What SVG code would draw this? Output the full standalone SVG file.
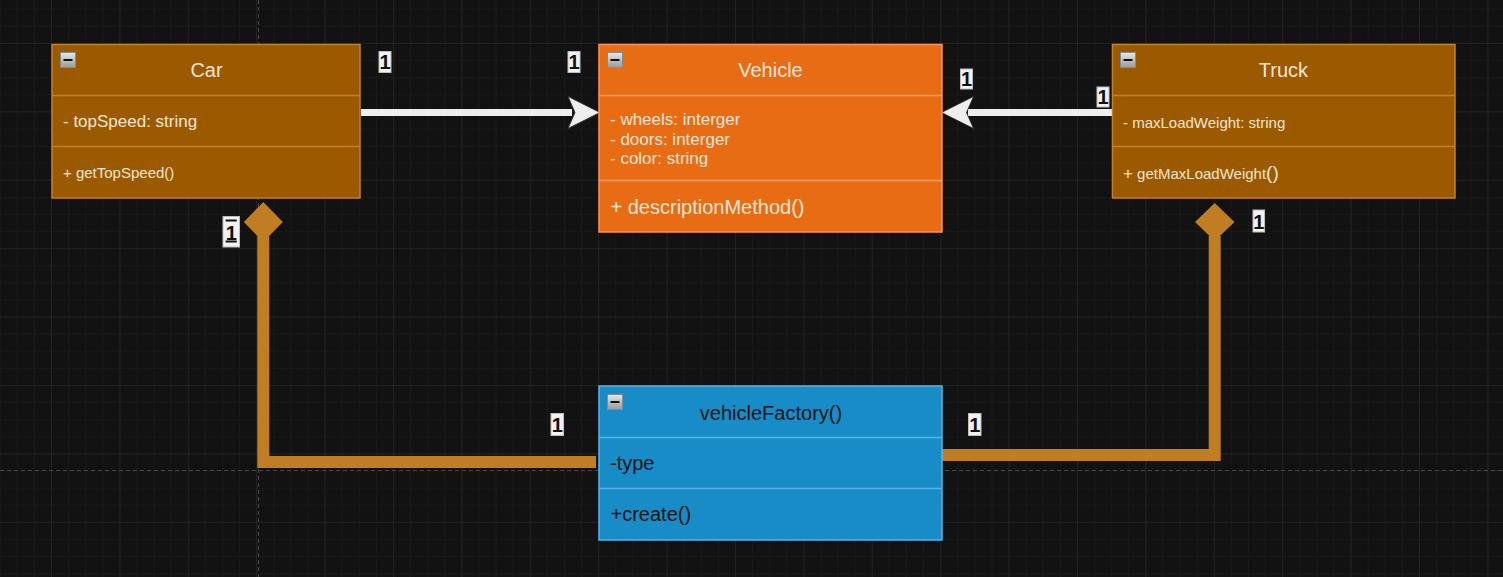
<svg xmlns="http://www.w3.org/2000/svg" width="1503" height="577" viewBox="0 0 1503 577">
<style>
  text { font-family: "Liberation Sans", Arial, sans-serif; }
  .box-car { fill: #9c5a00; stroke: #c3802a; stroke-width: 1.5; }
  .div-car { stroke: #c3802a; stroke-width: 1.5; }
  .box-veh { fill: #e86c14; stroke: #ff9058; stroke-width: 1.5; }
  .div-veh { stroke: #ff9a68; stroke-width: 1.5; }
  .box-fac { fill: #188cc6; stroke: #5ab2ee; stroke-width: 1.5; }
  .div-fac { stroke: #5ab2ee; stroke-width: 1.5; }
  .t-light { fill: #f2e4d2; }
  .t-veh { fill: #f8e4d4; }
  .t-dark { fill: #141414; }
  .title { font-size: 20px; text-anchor: middle; }
  .lbl-bg { fill: #f2f2f2; stroke: #bdbdbd; stroke-width: 1; }
  .lbl { font-size: 20px; font-weight: bold; fill: #111; text-anchor: middle; }
  .assoc { stroke: #eeeeee; stroke-width: 7; fill: none; }
  .head { fill: #eeeeee; stroke: #2a2a2a; stroke-width: 0.8; }
  .comp { stroke: #c17d22; stroke-width: 12; fill: none; stroke-linejoin: miter; }
  .diamond { fill: #c17d22; }
</style>
<defs>
  <pattern id="minor" x="51" y="43" width="17.1" height="17.1" patternUnits="userSpaceOnUse">
    <path d="M0 0 H17.1 M0 0 V17.1" stroke="#1d1d1d" stroke-width="1" fill="none"/>
  </pattern>
  <pattern id="major" x="51" y="43" width="68.4" height="68.4" patternUnits="userSpaceOnUse">
    <path d="M0 0 H68.4 M0 0 V68.4" stroke="#2b2b2b" stroke-width="1" fill="none"/>
  </pattern>
  <linearGradient id="iconGrad" x1="0" y1="0" x2="0" y2="1">
    <stop offset="0" stop-color="#e8e8e8"/>
    <stop offset="1" stop-color="#9a9a9a"/>
  </linearGradient>
  <g id="icon">
    <rect x="0.5" y="0.5" width="15" height="15" fill="url(#iconGrad)" stroke="#7f8c99" stroke-width="1"/>
    <line x1="3.5" y1="8" x2="12.5" y2="8" stroke="#111" stroke-width="2"/>
  </g>
</defs>

<rect width="1503" height="577" fill="#121212"/>
<rect width="1503" height="577" fill="url(#minor)"/>
<rect width="1503" height="577" fill="url(#major)"/>
<line x1="258.5" y1="0" x2="258.5" y2="577" stroke="#444" stroke-width="1.2" stroke-dasharray="4 3"/>
<line x1="0" y1="470.5" x2="1503" y2="470.5" stroke="#444" stroke-width="1.2" stroke-dasharray="4 3"/>

<g id="connectors">
  <polyline class="comp" points="596,462 263.3,462 263.3,236"/>
  <path class="diamond" d="M263.3 202 L282.8 222 L263.3 242 L243.8 222 Z"/>
  <polyline class="comp" points="942,455 1214.7,455 1214.7,236"/>
  <path class="diamond" d="M1214.7 203 L1234.5 222 L1214.7 241 L1195 222 Z"/>

  <line class="assoc" x1="361" y1="112.5" x2="572" y2="112.5"/>
  <path class="head" d="M600 112.5 L568 96.5 L575 112.5 L568 128.5 Z"/>
  <line class="assoc" x1="968" y1="112.5" x2="1112" y2="112.5"/>
  <path class="head" d="M941.5 112.5 L973.5 96.5 L966.5 112.5 L973.5 128.5 Z"/>

  <g id="labels">
    <rect class="lbl-bg" x="379" y="51.5" width="12" height="21"/>
    <text class="lbl" x="385" y="69">1</text>
    <rect class="lbl-bg" x="568" y="51.5" width="12" height="21"/>
    <text class="lbl" x="574" y="69">1</text>
    <rect class="lbl-bg" x="960.5" y="69" width="12" height="20"/>
    <text class="lbl" x="966.5" y="86">1</text>
    <rect class="lbl-bg" x="1097" y="87" width="12" height="20"/>
    <text class="lbl" x="1103" y="104">1</text>
    <rect class="lbl-bg" x="223" y="216.5" width="16.5" height="30.5"/>
    <text class="lbl" x="231.2" y="239.5" text-decoration="underline overline">1</text>
    <rect class="lbl-bg" x="1253" y="210" width="11.5" height="22"/>
    <text class="lbl" x="1258.7" y="228.5">1</text>
    <rect class="lbl-bg" x="551" y="413.5" width="12.5" height="22"/>
    <text class="lbl" x="557.2" y="431.5">1</text>
    <rect class="lbl-bg" x="968.5" y="413.5" width="12.5" height="22"/>
    <text class="lbl" x="974.7" y="431.5">1</text>
  </g>
</g>

<g id="car">
  <rect class="box-car" x="52" y="44.5" width="308" height="153.5"/>
  <line class="div-car" x1="52" y1="95.5" x2="360" y2="95.5"/>
  <line class="div-car" x1="52" y1="146.5" x2="360" y2="146.5"/>
  <use href="#icon" x="60" y="52"/>
  <text class="title t-light" x="206.5" y="77">Car</text>
  <text class="t-light" x="63" y="127" font-size="17">- topSpeed: string</text>
  <text class="t-light" x="63" y="177.5" font-size="15">+ getTopSpeed()</text>
</g>

<g id="vehicle">
  <rect class="box-veh" x="599" y="44.5" width="343" height="187.5"/>
  <line class="div-veh" x1="599" y1="95.5" x2="942" y2="95.5"/>
  <line class="div-veh" x1="599" y1="180.5" x2="942" y2="180.5"/>
  <use href="#icon" x="607" y="52"/>
  <text class="title t-veh" x="770.5" y="77">Vehicle</text>
  <text class="t-veh" x="610" y="124.5" font-size="17">- wheels: interger</text>
  <text class="t-veh" x="610" y="144.5" font-size="17">- doors: interger</text>
  <text class="t-veh" x="610" y="164" font-size="17">- color: string</text>
  <text class="t-veh" x="610.5" y="214" font-size="20">+ descriptionMethod()</text>
</g>

<g id="truck">
  <rect class="box-car" x="1112.5" y="44.5" width="342.5" height="153.5"/>
  <line class="div-car" x1="1112.5" y1="95.5" x2="1455" y2="95.5"/>
  <line class="div-car" x1="1112.5" y1="146.5" x2="1455" y2="146.5"/>
  <use href="#icon" x="1120" y="52"/>
  <text class="title t-light" x="1283.5" y="77">Truck</text>
  <text class="t-light" x="1123" y="128" font-size="15">- maxLoadWeight: string</text>
  <text class="t-light" x="1123" y="178.5" font-size="15"><tspan font-size="17">+</tspan> getMaxLoadWeight<tspan font-size="19">()</tspan></text>
</g>

<g id="vehicleFactory">
  <rect class="box-fac" x="599" y="386" width="343" height="154"/>
  <line class="div-fac" x1="599" y1="437.5" x2="942" y2="437.5"/>
  <line class="div-fac" x1="599" y1="488.5" x2="942" y2="488.5"/>
  <use href="#icon" x="607" y="394"/>
  <text class="title t-dark" x="771" y="419.5">vehicleFactory()</text>
  <text class="t-dark" x="610" y="469.5" font-size="20">-type</text>
  <text class="t-dark" x="610.5" y="520.5" font-size="20">+create()</text>
</g>
</svg>
